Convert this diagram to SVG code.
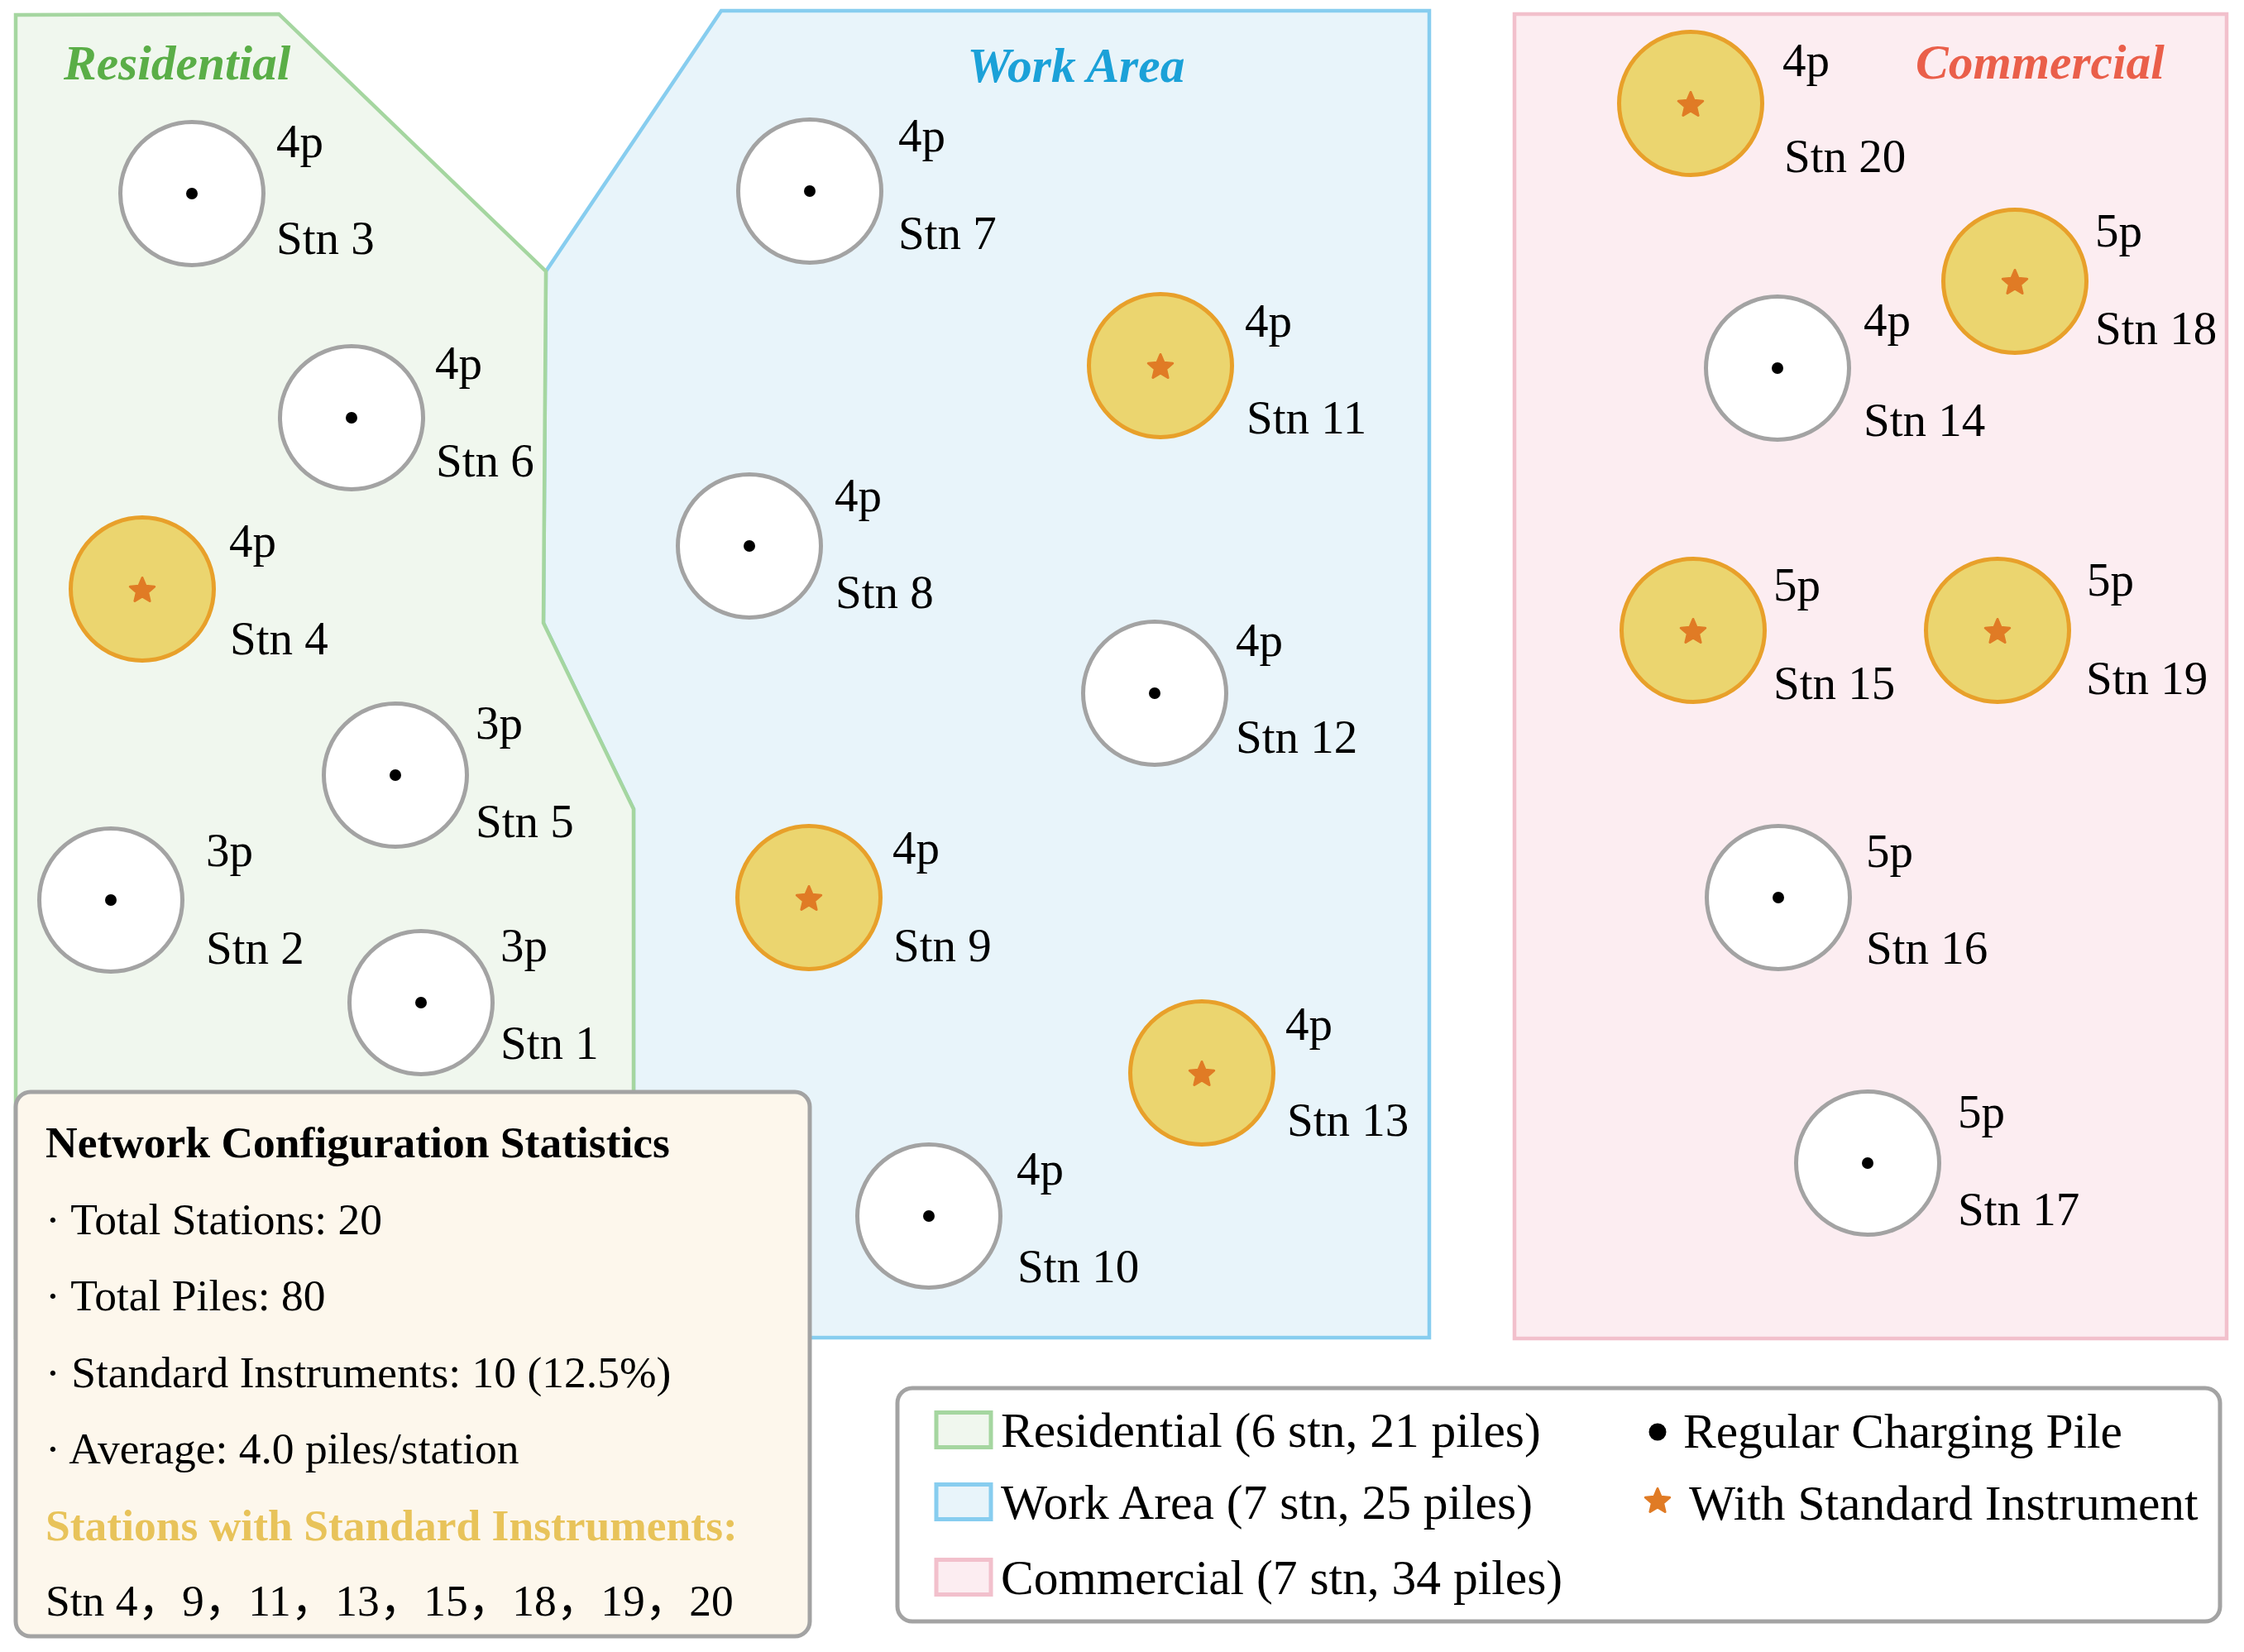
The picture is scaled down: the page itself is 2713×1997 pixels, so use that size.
<svg xmlns="http://www.w3.org/2000/svg" xmlns:xlink="http://www.w3.org/1999/xlink" width="2713" height="1997" viewBox="0 0 2713 1997">
<style>
.t{font-family:"Liberation Serif","Times New Roman",serif;fill:#000}
.lbl{font-size:57px}
.ttl{font-size:59.5px;font-weight:bold;font-style:italic}
.st{font-size:53.5px}
.lg{font-size:59.5px}
.reg{fill:#fff;stroke:#a3a3a3;stroke-width:5}
.ins{fill:#ebd56f;stroke:#e8a02a;stroke-width:5}
.dot{fill:#000}
.star{fill:#e07b25;stroke:#e07b25;stroke-width:3;stroke-linejoin:round}
</style>
<defs>
<path id="star" d="M0,-15.5 L4.11,-5.66 L14.74,-4.79 L6.66,2.16 L9.11,12.54 L0,7 L-9.11,12.54 L-6.66,2.16 L-14.74,-4.79 L-4.11,-5.66 Z"/>
</defs>
<rect width="2713" height="1997" fill="#fff"/>
<g id="regions">
<polygon id="work-area" points="872,13 1728,13 1728,1617 766,1617 766,978 657,753 660,328" fill="#e8f4fa" stroke="#87cdef" stroke-width="4.5"/>
<polygon id="residential" points="19,18 337,17 660,328 657,753 766,978 766,1617 19,1617" fill="#f0f7ee" stroke="#a5d6a0" stroke-width="4.5"/>
<rect id="commercial" x="1831" y="17" width="861" height="1601" fill="#fcedf1" stroke="#f2c0cc" stroke-width="4.5"/>
<text class="t ttl" x="77" y="96" style="fill:#5aae47">Residential</text>
<text class="t ttl" x="1301" y="99" text-anchor="middle" style="fill:#1ba1d8">Work Area</text>
<text class="t ttl" x="2316" y="95" style="fill:#ea5f4a">Commercial</text>
</g>
<g id="connectors"></g>
<g id="stn3"><circle class="reg" cx="232" cy="234" r="86.5"/><circle class="dot" cx="232" cy="234" r="7"/><text class="t lbl" x="334" y="190">4p</text><text class="t lbl" x="334" y="307">Stn 3</text></g>
<g id="stn6"><circle class="reg" cx="425" cy="505" r="86.5"/><circle class="dot" cx="425" cy="505" r="7"/><text class="t lbl" x="526" y="458">4p</text><text class="t lbl" x="527" y="576">Stn 6</text></g>
<g id="stn4"><circle class="ins" cx="172" cy="712" r="86.5"/><use href="#star" class="star" x="172" y="714"/><text class="t lbl" x="277" y="673">4p</text><text class="t lbl" x="278" y="791">Stn 4</text></g>
<g id="stn5"><circle class="reg" cx="478" cy="937" r="86.5"/><circle class="dot" cx="478" cy="937" r="7"/><text class="t lbl" x="575" y="893">3p</text><text class="t lbl" x="575" y="1012">Stn 5</text></g>
<g id="stn2"><circle class="reg" cx="134" cy="1088" r="86.5"/><circle class="dot" cx="134" cy="1088" r="7"/><text class="t lbl" x="249" y="1047">3p</text><text class="t lbl" x="249" y="1165">Stn 2</text></g>
<g id="stn1"><circle class="reg" cx="509" cy="1212" r="86.5"/><circle class="dot" cx="509" cy="1212" r="7"/><text class="t lbl" x="605" y="1162">3p</text><text class="t lbl" x="605" y="1280">Stn 1</text></g>
<g id="stn7"><circle class="reg" cx="979" cy="231" r="86.5"/><circle class="dot" cx="979" cy="231" r="7"/><text class="t lbl" x="1086" y="183">4p</text><text class="t lbl" x="1086" y="301">Stn 7</text></g>
<g id="stn11"><circle class="ins" cx="1403" cy="442" r="86.5"/><use href="#star" class="star" x="1403" y="444"/><text class="t lbl" x="1505" y="407">4p</text><text class="t lbl" x="1507" y="524">Stn 11</text></g>
<g id="stn8"><circle class="reg" cx="906" cy="660" r="86.5"/><circle class="dot" cx="906" cy="660" r="7"/><text class="t lbl" x="1009" y="618">4p</text><text class="t lbl" x="1010" y="735">Stn 8</text></g>
<g id="stn12"><circle class="reg" cx="1396" cy="838" r="86.5"/><circle class="dot" cx="1396" cy="838" r="7"/><text class="t lbl" x="1494" y="793">4p</text><text class="t lbl" x="1494" y="910">Stn 12</text></g>
<g id="stn9"><circle class="ins" cx="978" cy="1085" r="86.5"/><use href="#star" class="star" x="978" y="1087"/><text class="t lbl" x="1079" y="1044">4p</text><text class="t lbl" x="1080" y="1162">Stn 9</text></g>
<g id="stn13"><circle class="ins" cx="1453" cy="1297" r="86.5"/><use href="#star" class="star" x="1453" y="1299"/><text class="t lbl" x="1554" y="1257">4p</text><text class="t lbl" x="1556" y="1373">Stn 13</text></g>
<g id="stn10"><circle class="reg" cx="1123" cy="1470" r="86.5"/><circle class="dot" cx="1123" cy="1470" r="7"/><text class="t lbl" x="1229" y="1432">4p</text><text class="t lbl" x="1230" y="1550">Stn 10</text></g>
<g id="stn20"><circle class="ins" cx="2044" cy="125" r="86.5"/><use href="#star" class="star" x="2044" y="127"/><text class="t lbl" x="2155" y="92">4p</text><text class="t lbl" x="2157" y="208">Stn 20</text></g>
<g id="stn18"><circle class="ins" cx="2436" cy="340" r="86.5"/><use href="#star" class="star" x="2436" y="342"/><text class="t lbl" x="2533" y="298">5p</text><text class="t lbl" x="2533" y="416">Stn 18</text></g>
<g id="stn14"><circle class="reg" cx="2149" cy="445" r="86.5"/><circle class="dot" cx="2149" cy="445" r="7"/><text class="t lbl" x="2253" y="406">4p</text><text class="t lbl" x="2253" y="527">Stn 14</text></g>
<g id="stn15"><circle class="ins" cx="2047" cy="762" r="86.5"/><use href="#star" class="star" x="2047" y="764"/><text class="t lbl" x="2144" y="726">5p</text><text class="t lbl" x="2144" y="845">Stn 15</text></g>
<g id="stn19"><circle class="ins" cx="2415" cy="762" r="86.5"/><use href="#star" class="star" x="2415" y="764"/><text class="t lbl" x="2523" y="720">5p</text><text class="t lbl" x="2522" y="839">Stn 19</text></g>
<g id="stn16"><circle class="reg" cx="2150" cy="1085" r="86.5"/><circle class="dot" cx="2150" cy="1085" r="7"/><text class="t lbl" x="2256" y="1048">5p</text><text class="t lbl" x="2256" y="1165">Stn 16</text></g>
<g id="stn17"><circle class="reg" cx="2258" cy="1406" r="86.5"/><circle class="dot" cx="2258" cy="1406" r="7"/><text class="t lbl" x="2367" y="1363">5p</text><text class="t lbl" x="2367" y="1481">Stn 17</text></g>
<g id="stats">
<rect x="19" y="1320" width="960" height="658" rx="18" fill="#fdf7ec" stroke="#a3a3a3" stroke-width="5"/>
<text class="t st" x="55" y="1399" font-weight="bold">Network Configuration Statistics</text>
<text class="t st" x="55" y="1492">· Total Stations: 20</text>
<text class="t st" x="55" y="1584">· Total Piles: 80</text>
<text class="t st" x="55" y="1677">· Standard Instruments: 10 (12.5%)</text>
<text class="t st" x="55" y="1769">· Average: 4.0 piles/station</text>
<text class="t st" x="55" y="1862" font-weight="bold" style="fill:#e8c35a">Stations with Standard Instruments:</text>
<text class="t st" x="55" y="1953" style="font-family:'Liberation Serif','Noto Sans CJK SC',serif">Stn 4，9，11，13，15，18，19，20</text>
</g>
<g id="legend">
<rect x="1085" y="1678" width="1599" height="282" rx="18" fill="#fff" stroke="#a3a3a3" stroke-width="5"/>
<rect x="1132" y="1707.5" width="66" height="42" fill="#f0f7ee" stroke="#a5d6a0" stroke-width="5"/>
<rect x="1132" y="1794.5" width="66" height="42" fill="#e8f4fa" stroke="#87cdef" stroke-width="5"/>
<rect x="1132" y="1885.5" width="66" height="42" fill="#fcedf1" stroke="#f2c0cc" stroke-width="5"/>
<text class="t lg" x="1210" y="1749">Residential (6 stn, 21 piles)</text>
<text class="t lg" x="1210" y="1836">Work Area (7 stn, 25 piles)</text>
<text class="t lg" x="1210" y="1927">Commercial (7 stn, 34 piles)</text>
<circle cx="2004" cy="1731" r="10.5" fill="#000"/>
<text class="t lg" x="2035" y="1750">Regular Charging Pile</text>
<use href="#star" class="star" x="2004" y="1815"/>
<text class="t lg" x="2042" y="1837">With Standard Instrument</text>
</g>
</svg>
